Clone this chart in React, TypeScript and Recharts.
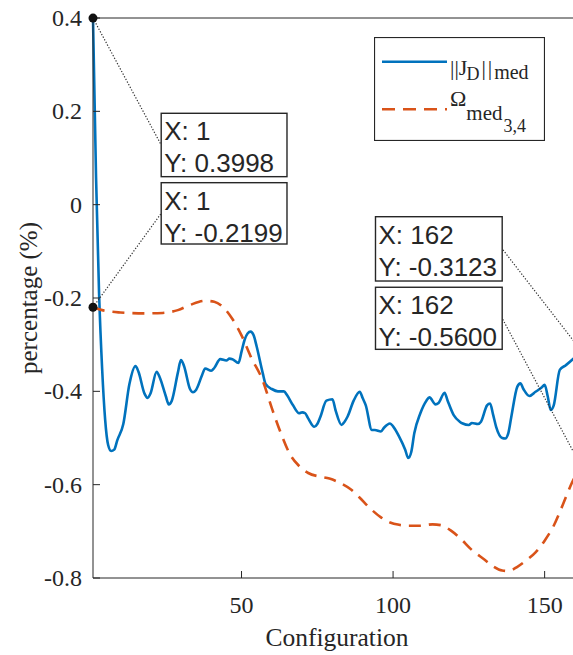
import { LineChart, Line, XAxis, YAxis, ReferenceLine, ReferenceDot, ReferenceArea } from 'recharts';

// ||J_D||_med samples (configuration, percentage)
const jdConfig = [
  1, 2, 3, 4, 5, 6, 7, 8, 9, 11, 13, 15, 16, 18, 19, 20, 22, 23, 25, 26, 27, 29, 30, 31, 33, 34, 35, 37,
  38, 40, 41, 43, 45, 46, 47, 49, 50, 51, 52, 53, 54, 55, 57, 58, 60, 62, 64, 65, 67, 69, 70, 71, 72, 74,
  75, 76, 78, 80, 81, 83, 84, 85, 87, 89, 90, 91, 93, 94, 96, 97, 99, 100, 102, 104, 105, 106, 107, 109,
  111, 112, 114, 115, 117, 118, 120, 122, 123, 125, 126, 128, 129, 131, 132, 133, 134, 136, 137, 138, 139,
  141, 142, 143, 145, 147, 149, 150, 151, 152, 153, 155, 157, 159, 162,
];
const jdValues = [
  0.3998, 0.06, -0.19, -0.35, -0.46, -0.515, -0.528, -0.525, -0.505, -0.47, -0.385, -0.346, -0.358, -0.405,
  -0.414, -0.404, -0.358, -0.37, -0.41, -0.428, -0.42, -0.36, -0.333, -0.345, -0.395, -0.402, -0.397, -0.365,
  -0.351, -0.356, -0.35, -0.331, -0.334, -0.33, -0.331, -0.339, -0.315, -0.29, -0.276, -0.272, -0.28, -0.304,
  -0.361, -0.385, -0.395, -0.4, -0.4, -0.408, -0.43, -0.447, -0.445, -0.447, -0.458, -0.476, -0.47, -0.455,
  -0.42, -0.417, -0.44, -0.472, -0.465, -0.454, -0.42, -0.401, -0.415, -0.43, -0.483, -0.483, -0.486, -0.478,
  -0.469, -0.475, -0.497, -0.525, -0.543, -0.53, -0.49, -0.447, -0.42, -0.413, -0.428, -0.425, -0.403, -0.42,
  -0.451, -0.465, -0.469, -0.472, -0.468, -0.47, -0.465, -0.43, -0.426, -0.45, -0.476, -0.5, -0.501, -0.49,
  -0.455, -0.39, -0.383, -0.395, -0.41, -0.401, -0.392, -0.386, -0.41, -0.44, -0.43, -0.354, -0.344, -0.333,
  -0.3123,
];

// Omega_med_3,4 samples
const omegaConfig = [
  1, 4, 10, 18, 24, 29, 33, 38, 41, 44, 47, 50, 53, 57, 60, 63, 66, 69, 72, 76, 79, 83, 86, 89, 92, 96, 99,
  102, 105, 109, 113, 116, 119, 122, 126, 130, 133, 136, 138, 141, 144, 147, 150, 153, 156, 159, 162,
];
const omegaValues = [
  -0.2199, -0.226, -0.231, -0.233, -0.232, -0.226, -0.215, -0.206, -0.208, -0.22, -0.245, -0.28, -0.325,
  -0.377, -0.436, -0.49, -0.535, -0.56, -0.575, -0.583, -0.587, -0.598, -0.61, -0.628, -0.648, -0.67, -0.681,
  -0.686, -0.688, -0.688, -0.685, -0.687, -0.698, -0.714, -0.74, -0.76, -0.775, -0.784, -0.785, -0.776,
  -0.762, -0.745, -0.72, -0.688, -0.643, -0.596, -0.56,
];

const xTicks = [50, 100, 150];
const yTicks = [-0.8, -0.6, -0.4, -0.2, 0, 0.2, 0.4];

// data tips: marked point, then box corners in data units
const tipPoints = [
  { x: 1, y: 0.3998 },
  { x: 1, y: -0.2199 },
  { x: 162, y: -0.3123 },
  { x: 162, y: -0.56 },
];
const tipBoxes = [
  { x1: 23.5, x2: 65, y1: 0.06, y2: 0.1958, side: 'left' },
  { x1: 23.5, x2: 65, y1: -0.0843, y2: 0.0471, side: 'left' },
  { x1: 94.2, x2: 136, y1: -0.1636, y2: -0.0258, side: 'right' },
  { x1: 94.2, x2: 136, y1: -0.31, y2: -0.177, side: 'right' },
];

const jdData = jdConfig.map((x, i) => ({ x, v: jdValues[i] }));
const omegaData = omegaConfig.map((x, i) => ({ x, v: omegaValues[i] }));

const AXIS = '#262626';
const SERIF = "'Liberation Serif', 'Times New Roman', serif";
const SANS = "'Liberation Sans', Arial, sans-serif";

const XTick = ({ x, y, payload }: any) => (
  <text x={x} y={y} textAnchor="middle" fontFamily={SERIF} fontSize={24} fill={AXIS}>
    {payload.value}
  </text>
);

const YTick = ({ x, y, payload }: any) => (
  <text x={x} y={y + 8} textAnchor="end" fontFamily={SERIF} fontSize={24} fill={AXIS}>
    {payload.value === 0 ? '0' : payload.value.toFixed(1)}
  </text>
);

const tipShape = (lines: string[]) => (props: any) => {
  const { x, y, width, height } = props;
  return (
    <g>
      <rect x={x} y={y} width={width} height={height} fill="#fff" stroke={AXIS} strokeWidth={1.4} />
      <text x={x + 3} y={y + 27} fontFamily={SANS} fontSize={26} fill={AXIS}>
        {lines[0]}
      </text>
      <text x={x + 3} y={y + 59} fontFamily={SANS} fontSize={26} fill={AXIS}>
        {lines[1]}
      </text>
    </g>
  );
};

function LegendBox() {
  return (
    <svg width={171} height={104} style={{ position: 'absolute', left: 374, top: 37 }}>
      <rect x={0.5} y={0.5} width={170} height={103} fill="#fff" stroke={AXIS} strokeWidth={1.2} />
      <line x1={8} x2={73} y1={24.7} y2={24.7} stroke="#0072BD" strokeWidth={2.6} />
      <line x1={8} x2={73} y1={72.3} y2={72.3} stroke="#D95319" strokeWidth={2.6} strokeDasharray="13 8" />
      <g fontFamily={SERIF} fill={AXIS}>
        <text x={76} y={38} fontSize={22}>
          ||J
          <tspan fontSize={18} dy={5} dx={-1}>D</tspan>
          <tspan fontSize={22} dy={-5} dx={2} letterSpacing={2}>||</tspan>
          <tspan fontSize={20} dy={4} dx={0}>med</tspan>
        </text>
        <text x={76} y={69} fontSize={22}>
          Ω
          <tspan fontSize={21} dy={14} dx={0}>med</tspan>
          <tspan fontSize={18} dy={12} dx={1}>3,4</tspan>
        </text>
      </g>
    </svg>
  );
}

export default function App() {
  return (
    <div
      style={{
        position: 'absolute',
        left: 0,
        top: 0,
        width: 573,
        height: 655,
        overflow: 'hidden',
        background: '#fff',
      }}
    >
      <LineChart width={600} height={655} margin={{ top: 0, right: 19, bottom: 17, left: 0 }}>
        <XAxis
          dataKey="x"
          type="number"
          domain={[1, 162]}
          ticks={xTicks}
          height={60}
          stroke={AXIS}
          tickSize={-7}
          tickMargin={42}
          tick={XTick}
          label={({ viewBox }: any) => (
            <text
              x={viewBox.x + viewBox.width / 2}
              y={646}
              textAnchor="middle"
              fontFamily={SERIF}
              fontSize={25.5}
              fill={AXIS}
            >
              Configuration
            </text>
          )}
        />
        <XAxis
          xAxisId="top"
          orientation="top"
          type="number"
          domain={[1, 162]}
          ticks={xTicks}
          height={18}
          stroke={AXIS}
          tickSize={-7}
          tick={false}
        />
        <YAxis
          type="number"
          domain={[-0.8, 0.4]}
          ticks={yTicks}
          width={93}
          stroke={AXIS}
          tickSize={-7}
          tickMargin={18}
          tick={YTick}
          label={({ viewBox }: any) => (
            <text
              x={36.5}
              y={viewBox.y + viewBox.height / 2}
              transform={`rotate(-90 36.5 ${viewBox.y + viewBox.height / 2})`}
              textAnchor="middle"
              fontFamily={SERIF}
              fontSize={25}
              fill={AXIS}
            >
              percentage (%)
            </text>
          )}
        />
        <Line
          data={jdData}
          dataKey="v"
          type="monotone"
          stroke="#0072BD"
          strokeWidth={2.6}
          dot={false}
          isAnimationActive={false}
        />
        <Line
          data={omegaData}
          dataKey="v"
          type="monotone"
          stroke="#D95319"
          strokeWidth={2.6}
          strokeDasharray="12 8"
          dot={false}
          isAnimationActive={false}
        />
        {tipBoxes.map((b, i) => {
          const p = tipPoints[i];
          const mid = (b.y1 + b.y2) / 2;
          const anchorX = b.side === 'left' ? b.x1 : b.x2;
          return (
            <ReferenceLine
              key={`lead-${i}`}
              segment={[
                { x: p.x, y: p.y },
                { x: anchorX, y: mid },
              ]}
              stroke="#333"
              strokeWidth={1.2}
              strokeDasharray="1.3 1.7"
            />
          );
        })}
        {tipBoxes.map((b, i) => (
          <ReferenceArea
            key={`tip-${i}`}
            x1={b.x1}
            x2={b.x2}
            y1={b.y1}
            y2={b.y2}
            shape={tipShape([`X: ${tipPoints[i].x}`, `Y: ${tipPoints[i].y.toFixed(4)}`])}
          />
        ))}
        {tipPoints.map((p, i) => (
          <ReferenceDot key={`dot-${i}`} x={p.x} y={p.y} r={4.5} fill="#111" stroke="none" />
        ))}
      </LineChart>
      <LegendBox />
    </div>
  );
}
